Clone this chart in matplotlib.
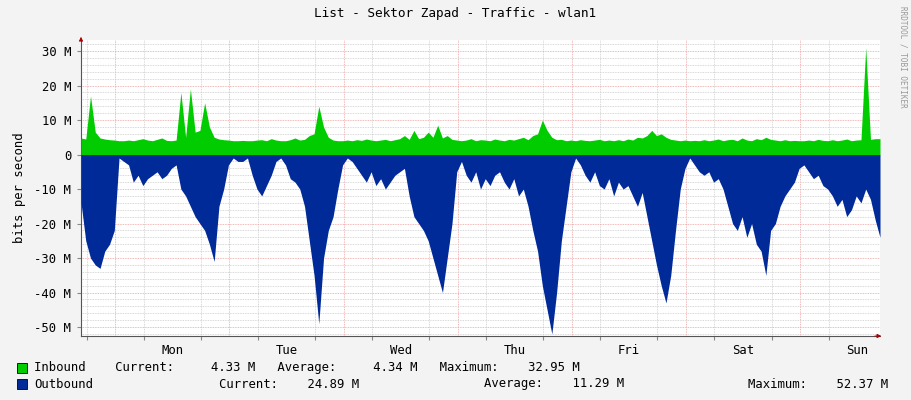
import matplotlib.pyplot as plt
import numpy as np
from matplotlib.ticker import MultipleLocator

# hourly samples, hour 0 = Sunday ~16:48, 168 h shown
outbound = [
    -14, -25, -30, -32, -33, -28, -26, -22,
    -1, -2, -3, -8, -6, -9, -7, -6, -5, -7, -6, -4, -3, -10, -12, -15,
    -18, -20, -22, -26, -31, -15, -10, -3, -1, -2, -2, -1, -6, -10, -12, -9,
    -6, -2, -1, -3, -7, -8, -10, -15, -25, -35, -49, -30, -22, -18, -10, -3,
    -1, -2, -4, -6, -8, -5, -9, -7, -10, -8, -6, -5, -4, -12, -18, -20,
    -22, -25, -30, -35, -40, -30, -20, -5, -2, -6, -8, -5, -10, -7, -9, -6,
    -5, -8, -10, -7, -12, -10, -15, -22, -28, -38, -45, -52, -40, -25, -15, -5,
    -1, -3, -6, -8, -5, -9, -10, -7, -12, -8, -10, -9, -12, -15, -11, -18,
    -25, -32, -38, -43, -35, -22, -10, -4, -1, -3, -5, -6, -5, -8, -7, -10,
    -15, -20, -22, -18, -24, -20, -26, -28, -35, -22, -20, -15, -12, -10, -8, -4,
    -3, -5, -7, -6, -9, -10, -12, -15, -13, -18, -16, -12, -14, -10, -13, -19,
    -24,
]
inbound = [
    4.8, 4.5, 17, 6.5, 4.8, 4.5, 4.3, 4.2,
    4.0, 4.0, 4.2, 4.0, 4.3, 4.6, 4.2, 4.0, 4.4, 4.8, 4.1, 4.0, 4.2, 18, 5.0, 19,
    6.5, 7.0, 15, 8.0, 5.0, 4.5, 4.3, 4.2, 4.0, 4.0, 4.1, 4.0, 4.0, 4.2, 4.3, 4.0,
    4.6, 4.2, 4.0, 4.0, 4.3, 4.8, 4.2, 4.4, 5.5, 6.0, 14, 8.0, 5.0, 4.2, 4.0, 4.0,
    4.2, 4.0, 4.3, 4.1, 4.5, 4.2, 4.0, 4.2, 4.4, 4.0, 4.3, 4.6, 5.5, 4.4, 7.0, 4.6,
    5.0, 6.5, 5.0, 8.5, 4.8, 5.5, 4.4, 4.2, 4.0, 4.2, 4.6, 4.0, 4.3, 4.2, 4.0, 4.5,
    4.2, 4.0, 4.4, 4.2, 4.6, 5.0, 4.3, 5.5, 6.0, 10, 7.0, 5.0, 4.3, 4.4, 4.0, 4.2,
    4.0, 4.3, 4.1, 4.0, 4.2, 4.4, 4.0, 4.2, 4.0, 4.3, 4.0, 4.5, 4.2, 5.0, 4.8, 5.5,
    7.0, 5.5, 6.0, 5.0, 4.4, 4.2, 4.0, 4.2, 4.0, 4.1, 4.0, 4.3, 4.0, 4.2, 4.5, 4.0,
    4.3, 4.4, 4.0, 4.8, 4.2, 4.0, 4.6, 4.3, 5.0, 4.4, 4.2, 4.0, 4.3, 4.0, 4.1, 4.0,
    4.0, 4.2, 4.0, 4.4, 4.1, 4.0, 4.3, 4.0, 4.2, 4.5, 4.0, 4.2, 4.3, 31, 4.4, 4.6,
    4.6,
]
day_labels = ["Mon", "Tue", "Wed", "Thu", "Fri", "Sat", "Sun"]
y_ticks = [30, 20, 10, 0, -10, -20, -30, -40, -50]

MONO = "DejaVu Sans Mono"
FS = 8.8
GREEN = "#00CC00"
BLUE = "#002A97"

hours = np.arange(len(outbound))
first_midnight = 7.2

fig = plt.figure(figsize=(9.11, 4.0), dpi=100, facecolor="#F3F3F3")
ax = fig.add_axes([81 / 911, 64 / 400, 799 / 911, 296 / 400])
ax.set_facecolor("white")

ax.fill_between(hours, 0, inbound, color=GREEN, linewidth=0, zorder=3)
ax.fill_between(hours, 0, outbound, color=BLUE, linewidth=0, zorder=3)

ax.set_xlim(0, 168)
ax.set_ylim(-52.6, 33.2)

# grid: minor grey every 2 M, major red every 10 M
ax.yaxis.set_minor_locator(MultipleLocator(2))
ax.set_yticks(y_ticks)
ax.set_yticklabels([f"{v} M" if v else "0" for v in y_ticks], family=MONO, fontsize=FS)
ax.grid(which="minor", axis="y", color="#CCCCCC", linestyle=(0, (1, 1)), linewidth=0.6)
ax.grid(which="major", axis="y", color="#F0A0A0", linestyle=(0, (1, 1)), linewidth=0.6)

midnights = [first_midnight + 24 * i for i in range(7)]
six_hours = [m + d for m in [first_midnight - 24] + midnights for d in (18, 6)]
six_hours = sorted(h for h in set(round(v, 2) for v in six_hours) if 0 < h < 168)
for h in six_hours:
    ax.axvline(h, color="#CCCCCC", linestyle=(0, (1, 1)), linewidth=0.6, zorder=1)
for m in midnights:
    ax.axvline(m, color="#F0A0A0", linestyle=(0, (1, 1)), linewidth=0.6, zorder=1)

ax.set_xticks(six_hours)
ax.set_xticklabels([])
ax.set_xticks([m + 12 for m in midnights], minor=True)
ax.set_xticklabels(day_labels, minor=True, family=MONO, fontsize=FS)
ax.tick_params(axis="x", which="minor", length=0, pad=6)
ax.tick_params(axis="x", which="major", length=3, color="#888888")
ax.tick_params(axis="y", which="major", length=3, color="#888888", pad=4)
ax.tick_params(axis="y", which="minor", length=0)

for side in ("top", "right"):
    ax.spines[side].set_visible(False)
for side in ("left", "bottom"):
    ax.spines[side].set_color("#555555")
    ax.spines[side].set_linewidth(0.8)
ax.annotate("", xy=(1.005, 0), xytext=(0.99, 0), xycoords="axes fraction",
            arrowprops=dict(arrowstyle="-|>", color="#AA0000", lw=0.6, mutation_scale=6))
ax.annotate("", xy=(0, 1.02), xytext=(0, 0.99), xycoords="axes fraction",
            arrowprops=dict(arrowstyle="-|>", color="#AA0000", lw=0.6, mutation_scale=6))

ax.set_ylabel("bits per second", family=MONO, fontsize=FS, labelpad=6)
fig.text(0.5, 1 - 14 / 400, "List - Sektor Zapad - Traffic - wlan1",
         ha="center", va="center", family=MONO, fontsize=9.2)
fig.text(1 - 8 / 911, 1 - 6 / 400, "RRDTOOL / TOBI OETIKER", rotation=270,
         ha="center", va="top", family=MONO, fontsize=5.5, color="#999999")

# legend
for y, color in ((368, GREEN), (384, BLUE)):
    fig.patches.append(plt.Rectangle((17 / 911, 1 - (y + 5) / 400), 10 / 911, 10 / 400,
                                     transform=fig.transFigure, facecolor=color,
                                     edgecolor="black", linewidth=0.6))
fig.text(34 / 911, 1 - 368 / 400,
         "Inbound    Current:     4.33 M   Average:     4.34 M   Maximum:    32.95 M",
         va="center", family=MONO, fontsize=FS)
fig.text(34 / 911, 1 - 384 / 400, "Outbound", va="center", family=MONO, fontsize=FS)
fig.text(219 / 911, 1 - 384 / 400, "Current:    24.89 M", va="center", family=MONO, fontsize=FS)
fig.text(484 / 911, 1 - 384 / 400, "Average:    11.29 M", va="center", family=MONO, fontsize=FS)
fig.text(748 / 911, 1 - 384 / 400, "Maximum:    52.37 M", va="center", family=MONO, fontsize=FS)

fig.savefig("out.png", dpi=100, facecolor=fig.get_facecolor())
